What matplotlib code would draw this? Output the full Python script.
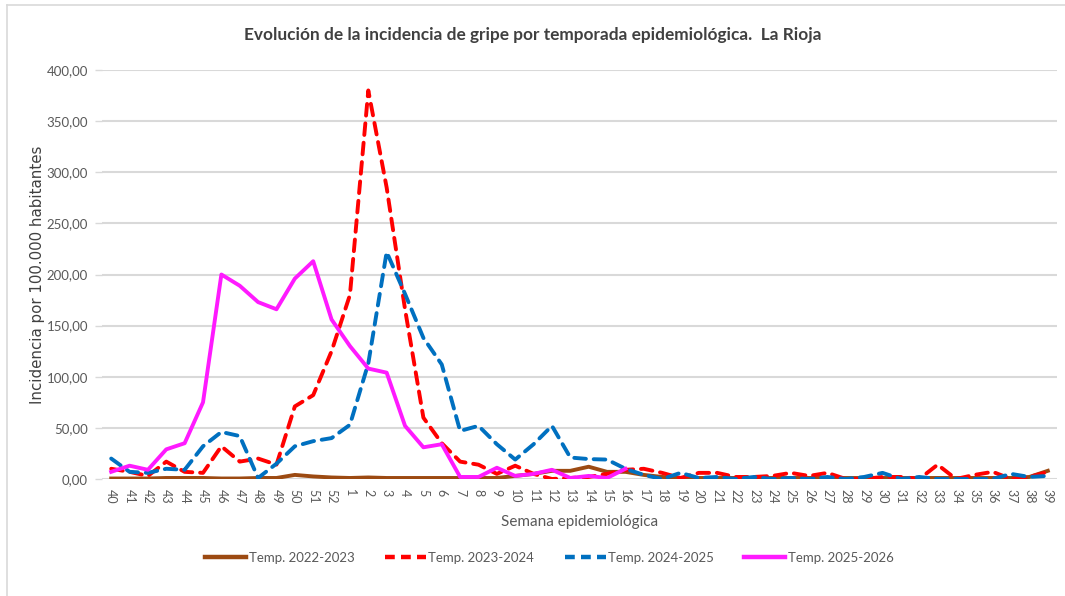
import numpy as np
import matplotlib
matplotlib.use('Agg')
import matplotlib.pyplot as plt
from matplotlib.lines import Line2D

# Weeks of the epidemiological season (40 -> 39)
weeks = [str(w) for w in list(range(40, 53)) + list(range(1, 40))]

# Incidence per 100.000 inhabitants
temp_2022_2023 = [0.5, 0.5, 0.5, 1, 1, 1, 0.5, 0.5, 1, 1, 4, 2.5, 1.5,
                  1, 1.5, 1, 1, 1, 1, 1, 1, 1, 3, 5, 8,
                  8, 12, 7, 7, 4, 2, 1, 1, 1, 1, 1, 1, 1,
                  1, 1, 1, 1, 1, 1, 1, 1, 1, 1, 1, 1, 2, 8]
temp_2023_2024 = [10, 7, 3, 17, 7, 6, 32, 17, 20, 14, 71, 82, 125,
                  180, 380, 285, 166, 60, 35, 17, 14, 5, 13, 5, 0,
                  1, 2, 5, 9, 10, 6, 1, 6, 6, 2, 2, 3, 6,
                  3, 6, 0, 0, 2, 2, 0, 14, 0, 4, 7, 0, 2, 7]
temp_2024_2025 = [20, 7, 6, 10, 9, 32, 46, 42, 1, 15, 32, 37, 40,
                  53, 113, 222, 181, 138, 112, 47, 52, 34, 19, 34, 52,
                  21, 19.5, 19, 10, 4, 0, 6, 1, 2, 0, 2, 0, 1,
                  0, 2, 0, 2, 6, 0, 2, 0, 0, 0, 0, 5, 2, 3]
temp_2025_2026 = [7, 13, 9, 29, 35, 75, 200, 189, 173, 166, 196, 213, 156,
                  130, 108, 104, 52, 31, 34, 2, 2, 11, 3, 5, 9,
                  1, 3, 1, 10]

labels = ['Temp. 2022-2023', 'Temp. 2023-2024', 'Temp. 2024-2025', 'Temp. 2025-2026']
colors = ['#9C4A12', '#FF0000', '#0070C0', '#FF1AFF']

font_main = ['Lato', 'DejaVu Sans']

fig = plt.figure(figsize=(10.65, 5.96), dpi=100)
ax = fig.add_axes([102 / 1065, 1 - 479 / 596, 955 / 1065, 409 / 596])

x = np.arange(len(weeks))
pink = np.full(len(weeks), np.nan)
pink[:len(temp_2025_2026)] = temp_2025_2026

lw = 2.8
ax.plot(x, temp_2022_2023, color=colors[0], lw=lw, solid_joinstyle='round', zorder=3)
ax.plot(x, temp_2023_2024, color=colors[1], lw=lw, dashes=(3.0, 2.0), dash_capstyle='round', zorder=4)
ax.plot(x, temp_2024_2025, color=colors[2], lw=lw, dashes=(3.0, 2.0), dash_capstyle='round', zorder=5)
ax.plot(x, pink, color=colors[3], lw=lw, solid_joinstyle='round', zorder=6)

ax.set_xlim(-0.5, len(weeks) - 0.5)
ax.set_ylim(0, 400)
ax.set_yticks(np.arange(0, 401, 50))
ax.set_yticklabels([f'{v:.2f}'.replace('.', ',') for v in np.arange(0, 401, 50)],
                   family=font_main, fontsize=9.5, color='#595959')
ax.set_xticks(x)
ax.set_xticklabels(weeks, rotation=270, family=font_main, fontsize=9, color='#595959')
ax.tick_params(axis='x', length=0, pad=7)
ax.tick_params(axis='y', length=5, color='#D9D9D9', width=1, pad=5)
ax.grid(axis='y', color='#D9D9D9', lw=1.5)
ax.set_axisbelow(True)
for s in ax.spines.values():
    s.set_visible(False)

ax.set_xlabel('Semana epidemiológica', family=font_main, fontsize=11, color='#595959', labelpad=8.5)
ax.set_ylabel('Incidencia por 100.000 habitantes', family='DejaVu Sans', fontsize=10.8,
              color='#404040', labelpad=1.5)
fig.text(0.5, 1 - 35 / 596, 'Evolución de la incidencia de gripe por temporada epidemiológica.  La Rioja',
         ha='center', va='center', family=font_main, fontsize=12.4, fontweight='bold', color='#404040')

handles = [Line2D([], [], color=colors[0], lw=lw + 0.4),
           Line2D([], [], color=colors[1], lw=lw + 0.4, dashes=(2.2, 1.4)),
           Line2D([], [], color=colors[2], lw=lw + 0.4, dashes=(2.2, 1.4)),
           Line2D([], [], color=colors[3], lw=lw + 0.4)]
fig.legend(handles, labels, loc='center', bbox_to_anchor=(0.516, 1 - 558 / 596), ncol=4,
           frameon=False, prop={'family': font_main, 'size': 9.5}, handlelength=3.1,
           handletextpad=0.2, columnspacing=2.3, labelcolor='#595959')

# light frame of the chart area
fig.add_artist(plt.Line2D([7 / 1065, 7 / 1065], [0, 1 - 5 / 596], transform=fig.transFigure,
                          color='#D9D9D9', lw=1.2))
fig.add_artist(plt.Line2D([7 / 1065, 1], [1 - 5 / 596, 1 - 5 / 596], transform=fig.transFigure,
                          color='#D9D9D9', lw=1.2))

fig.savefig('out.png', dpi=100)
